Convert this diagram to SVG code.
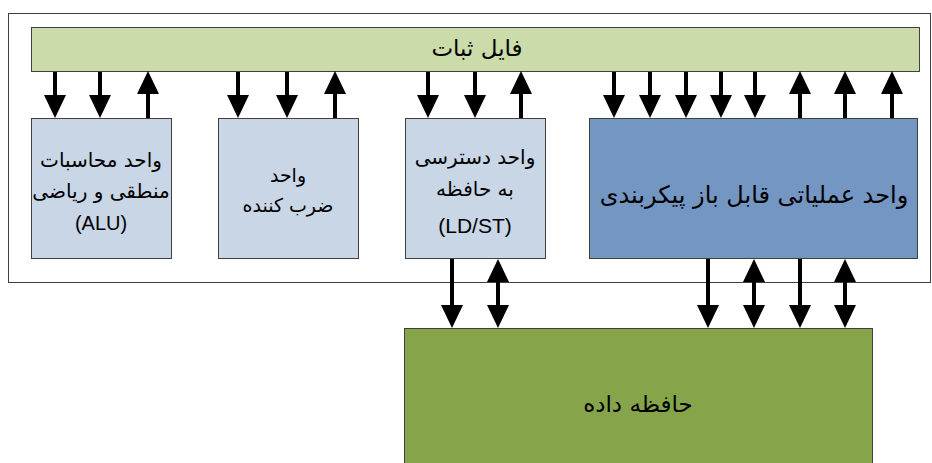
<svg xmlns="http://www.w3.org/2000/svg" width="932" height="463" viewBox="0 0 932 463">
<defs>
<marker id="ah" markerUnits="userSpaceOnUse" viewBox="0 0 23 22" markerWidth="23" markerHeight="22" refX="11" refY="11" orient="auto-start-reverse">
<path d="M0,0 L23,11 L0,22 z" fill="#000"/>
</marker>
<style>
.box{stroke:#404040;stroke-width:1}
.fa{font-family:"DejaVu Sans",sans-serif;fill:#000;text-anchor:middle;dominant-baseline:central}
.en{font-family:"Liberation Sans",Arial,sans-serif;fill:#000;text-anchor:middle;dominant-baseline:central}
.c line{stroke:#000;stroke-width:4}
.d{marker-end:url(#ah)}
.b{marker-start:url(#ah);marker-end:url(#ah)}
</style>
</defs>
<rect x="0" y="0" width="932" height="463" fill="#fff"/>
<g id="outer"><rect x="8.5" y="13.5" width="922" height="269" fill="none" stroke="#404040" stroke-width="1"/></g>
<g id="regfile"><rect class="box" x="31.5" y="27.5" width="888" height="44" fill="#CBDBA9"/><text class="fa" x="477" y="48" font-size="23" direction="rtl">فایل ثبات</text></g>
<g id="alu"><rect class="box" x="31.5" y="118.5" width="140" height="140" fill="#C8D6E6"/>
<text class="fa" x="101" y="160" font-size="20" direction="rtl">واحد محاسبات</text>
<text class="fa" x="101" y="191" font-size="20" direction="rtl">منطقی و ریاضی</text>
<text class="en" x="101" y="223" font-size="20">(ALU)</text></g>
<g id="mul"><rect class="box" x="218.5" y="118.5" width="140" height="140" fill="#C8D6E6"/>
<text class="fa" x="288" y="175" font-size="19" direction="rtl">واحد</text>
<text class="fa" x="288" y="205" font-size="19" direction="rtl">ضرب کننده</text></g>
<g id="ldst"><rect class="box" x="405.5" y="118.5" width="140" height="140" fill="#C8D6E6"/>
<text class="fa" x="475" y="157" font-size="20" direction="rtl">واحد دسترسی</text>
<text class="fa" x="475" y="189" font-size="20" direction="rtl">به حافظه</text>
<text class="en" x="475" y="225" font-size="21">(LD/ST)</text></g>
<g id="rfu"><rect class="box" x="589.5" y="118.5" width="328" height="140" fill="#7396C2"/>
<text class="fa" x="754" y="195" font-size="24" direction="rtl">واحد عملیاتی قابل باز پیکربندی</text></g>
<g id="mem"><rect class="box" x="404.5" y="328.5" width="468" height="140" fill="#86A54A"/>
<text class="fa" x="638" y="404" font-size="23" direction="rtl">حافظه داده</text></g>
<g id="connectors" class="c">
<line class="d" x1="55" y1="72" x2="55" y2="106"/>
<line class="d" x1="100" y1="72" x2="100" y2="106"/>
<line class="d" x1="148" y1="118" x2="148" y2="83"/>
<line class="d" x1="238" y1="72" x2="238" y2="106"/>
<line class="d" x1="287" y1="72" x2="287" y2="106"/>
<line class="d" x1="335" y1="118" x2="335" y2="83"/>
<line class="d" x1="428" y1="72" x2="428" y2="106"/>
<line class="d" x1="475" y1="72" x2="475" y2="106"/>
<line class="d" x1="521" y1="118" x2="521" y2="83"/>
<line class="d" x1="614" y1="72" x2="614" y2="106"/>
<line class="d" x1="650" y1="72" x2="650" y2="106"/>
<line class="d" x1="686" y1="72" x2="686" y2="106"/>
<line class="d" x1="721" y1="72" x2="721" y2="106"/>
<line class="d" x1="755" y1="72" x2="755" y2="106"/>
<line class="d" x1="800" y1="118" x2="800" y2="83"/>
<line class="d" x1="845" y1="118" x2="845" y2="83"/>
<line class="d" x1="892" y1="118" x2="892" y2="83"/>
<line class="d" x1="452" y1="259" x2="452" y2="316"/>
<line class="b" x1="498" y1="271" x2="498" y2="316"/>
<line class="d" x1="708" y1="259" x2="708" y2="316"/>
<line class="b" x1="754" y1="271" x2="754" y2="316"/>
<line class="d" x1="800" y1="259" x2="800" y2="316"/>
<line class="b" x1="845" y1="271" x2="845" y2="316"/>
</g>
</svg>
